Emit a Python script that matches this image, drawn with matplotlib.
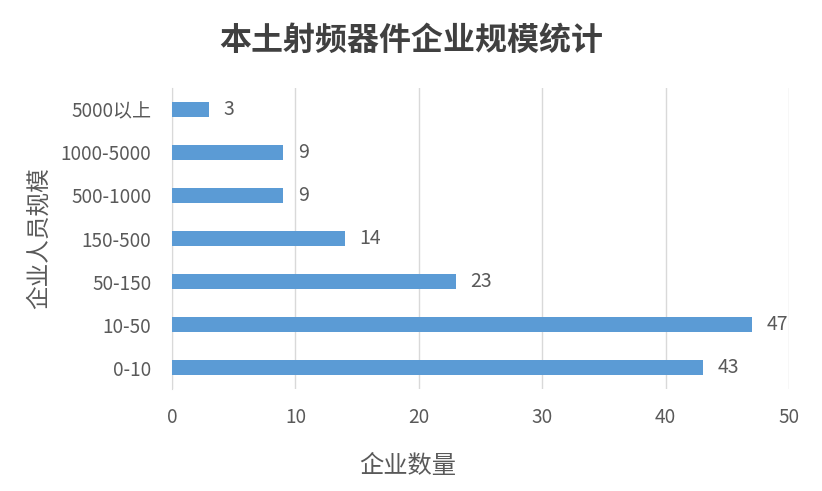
import matplotlib.pyplot as plt
import numpy as np

plt.rcParams['font.family'] = ['Noto Sans CJK SC', 'DejaVu Sans']

categories = ['0-10', '10-50', '50-150', '150-500', '500-1000', '1000-5000', '5000以上']
counts = [43, 47, 23, 14, 9, 9, 3]
xticks = [0, 10, 20, 30, 40, 50]

txt = '#595959'
fig = plt.figure(figsize=(8.22, 4.91), dpi=100)
ax = fig.add_axes([0.2092, 0.2077, 0.7507, 0.6131])

y = np.arange(len(categories))
ax.barh(y, counts, height=0.37, color='#5b9bd5', zorder=3)
for yi, v in zip(y, counts):
    ax.text(v + 1.2, yi, str(v), va='center', ha='left', fontsize=14, color=txt)

ax.set_xlim(0, 50)
ax.set_ylim(-0.5, len(categories) - 0.5)
ax.set_xticks(xticks)
ax.set_yticks(y)
ax.set_yticklabels(categories)
ax.tick_params(axis='both', length=0, labelsize=13.7, colors=txt)
ax.tick_params(axis='x', pad=13)
ax.tick_params(axis='y', pad=15)
ax.grid(axis='x', color='#d9d9d9', linewidth=1, zorder=0)
for s in ['top', 'right', 'bottom']:
    ax.spines[s].set_visible(False)
ax.spines['left'].set_color('#d9d9d9')

ax.set_xlabel('企业数量', fontsize=17.5, color=txt)
ax.xaxis.set_label_coords(0.382, -0.213)
ax.set_ylabel('企业人员规模', fontsize=17, color=txt)
ax.yaxis.set_label_coords(-0.196, 0.5)
fig.suptitle('本土射频器件企业规模统计', fontsize=23, fontweight='bold', color='#404040', y=0.95)

fig.savefig('out.png', dpi=100)
